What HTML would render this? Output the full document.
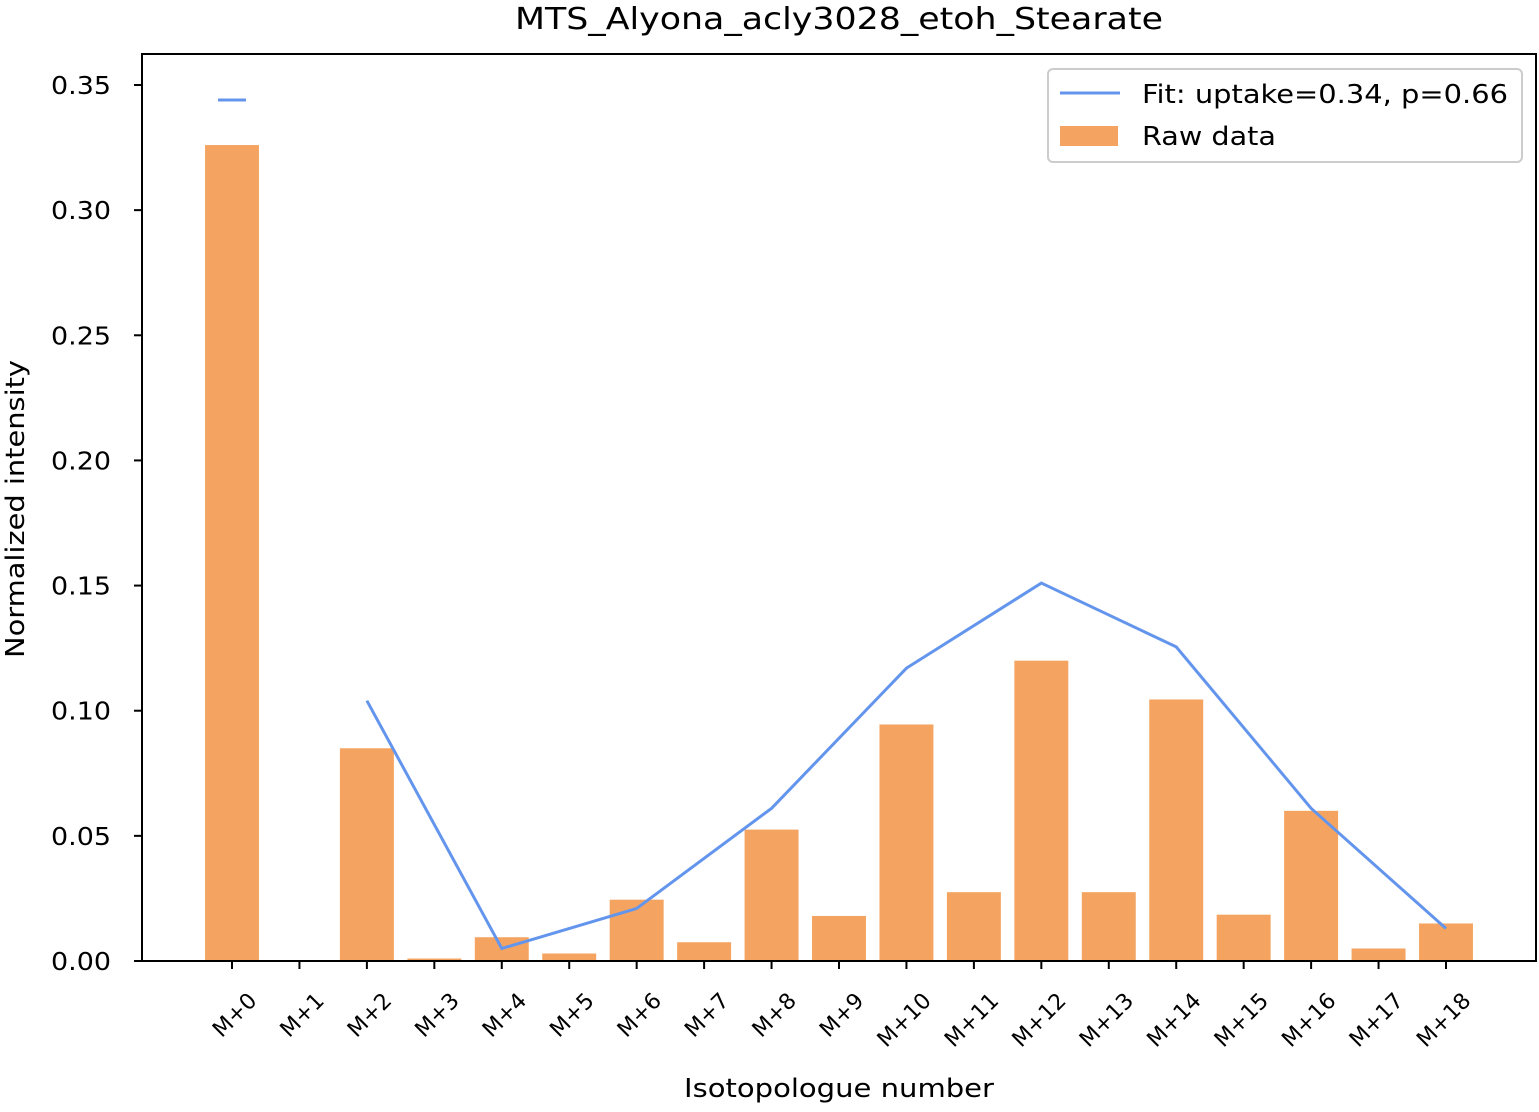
<!DOCTYPE html>
<html><head><meta charset="utf-8"><style>
body{margin:0;background:#fff}
svg text{font-family:"DejaVu Sans","Liberation Sans",sans-serif;fill:#000}
</style></head><body>
<svg id="chart" width="1539" height="1107" viewBox="0 0 1539 1107" xmlns="http://www.w3.org/2000/svg">
<text x="839" y="29" font-size="30" text-anchor="middle" textLength="648" lengthAdjust="spacingAndGlyphs">MTS_Alyona_acly3028_etoh_Stearate</text>
<g id="plot"></g>
<rect x="142" y="54" width="1394" height="907" fill="none" stroke="#000" stroke-width="2"/>
<text transform="translate(24,509) rotate(-90)" font-size="26" text-anchor="middle" textLength="298" lengthAdjust="spacingAndGlyphs">Normalized intensity</text>
<text x="839" y="1097" font-size="26" text-anchor="middle" textLength="310" lengthAdjust="spacingAndGlyphs">Isotopologue number</text>
<g>
<rect x="1048" y="69" width="474" height="93" rx="5" fill="#fff" stroke="#ccc" stroke-width="2"/>
<line x1="1060" y1="93" x2="1120" y2="93" stroke="#6495ED" stroke-width="3"/>
<text x="1142" y="103" font-size="26" textLength="366" lengthAdjust="spacingAndGlyphs">Fit: uptake=0.34, p=0.66</text>
<rect x="1060" y="126" width="58" height="20" fill="#F4A460"/>
<text x="1142" y="145" font-size="26" textLength="134" lengthAdjust="spacingAndGlyphs">Raw data</text>
</g>
</svg>
<script>
const categories=["M+0","M+1","M+2","M+3","M+4","M+5","M+6","M+7","M+8","M+9","M+10","M+11","M+12","M+13","M+14","M+15","M+16","M+17","M+18"];
const rawValues=[0.326,0,0.085,0.001,0.0095,0.003,0.0245,0.0075,0.0525,0.018,0.0945,0.0275,0.12,0.0275,0.1045,0.0185,0.060,0.005,0.015];
const fitIndex=[0,2,4,6,8,10,12,14,16,18];
const fitValues=[0.344,0.104,0.005,0.021,0.061,0.117,0.151,0.1255,0.061,0.013];
const fitBreaks=[1];
const yTicks=[0,0.05,0.10,0.15,0.20,0.25,0.30,0.35];
const yTickLabels=["0.00","0.05","0.10","0.15","0.20","0.25","0.30","0.35"];

const NS="http://www.w3.org/2000/svg";
const g=document.getElementById('plot');
const y0=961,yTop=85,yMax=0.35;
const y=v=>y0-(v/yMax)*(y0-yTop);
const step=(1446-232)/(categories.length-1);
const x=i=>232+i*step;
const bw=step*0.8;
function mk(t,a){const e=document.createElementNS(NS,t);for(const k in a)e.setAttribute(k,a[k]);g.appendChild(e);return e;}
rawValues.forEach((v,i)=>{
 const r=mk('rect',{x:x(i)-bw/2,y:y(v),width:bw,height:y0-y(v),fill:'#F4A460'});
 
 
});
const segs=[];let seg=[];
fitIndex.forEach((idx,k)=>{ if(fitBreaks.includes(k)){segs.push(seg);seg=[];} seg.push([x(idx),y(fitValues[k])]); });
if(seg.length)segs.push(seg);
segs.forEach(s=>{
 let pts=s;
 if(s.length===1) pts=[[s[0][0]-14,s[0][1]],[s[0][0]+14,s[0][1]]];
 const p=mk('polyline',{points:pts.map(p=>p.join(',')).join(' '),fill:'none',stroke:'#6495ED','stroke-width':3});
 
 
});
yTicks.forEach((t,i)=>{
 const l=mk('line',{x1:134,x2:142,y1:y(t),y2:y(t),stroke:'#000','stroke-width':2});
 
 
 const tx=mk('text',{x:111,y:y(t)+9,'font-size':25,'text-anchor':'end',textLength:60,lengthAdjust:'spacingAndGlyphs'});
 tx.textContent=yTickLabels[i];
 
 
});
categories.forEach((c,i)=>{
 const l=mk('line',{x1:x(i),x2:x(i),y1:961,y2:969,stroke:'#000','stroke-width':2});
 
 
 const len=22*(0.863+0.838+0.636*(c.length-2));
 const tx=mk('text',{transform:`translate(${x(i)+26},${1002}) rotate(-45)`,'font-size':22,'text-anchor':'end',textLength:len.toFixed(1),lengthAdjust:'spacingAndGlyphs'});
 tx.textContent=c;
 
 
});
</script>
</body></html>
